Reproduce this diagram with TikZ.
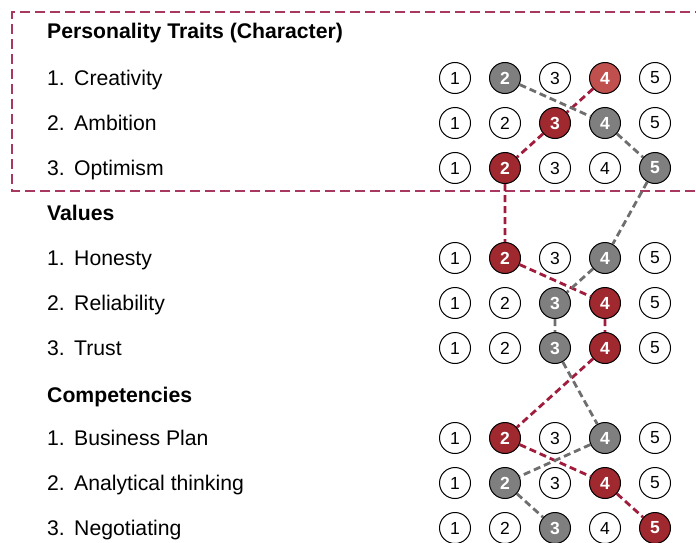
\documentclass[tikz,border=0pt]{standalone}
\usepackage{fontspec}
\setmainfont{Liberation Sans}
\definecolor{dred}{HTML}{A0282F}
\definecolor{lred}{HTML}{C0504D}
\definecolor{dgray}{HTML}{7F7F7F}
\definecolor{lgray}{HTML}{6E6E6E}
\definecolor{boxc}{HTML}{A8385F}
\definecolor{lnred}{HTML}{A01C3C}
\begin{document}
\begin{tikzpicture}[x=1pt,y=-1pt,
  dot/.style={circle,draw=black,line width=1pt,minimum size=31pt,inner sep=0pt,fill=white,
    font=\fontsize{17.5}{17.5}\selectfont},
  gdot/.style={fill=dgray,text=white,font=\fontsize{17.5}{17.5}\selectfont\bfseries},
  rdot/.style={fill=dred,text=white,font=\fontsize{17.5}{17.5}\selectfont\bfseries},
  ldot/.style={fill=lred,text=white,font=\fontsize{17.5}{17.5}\selectfont\bfseries},
  head/.style={anchor=base west,inner sep=0pt,font=\fontsize{21.2}{21.2}\selectfont\bfseries},
  item/.style={anchor=base west,inner sep=0pt,font=\fontsize{21.2}{21.2}\selectfont},
  redline/.style={draw=lnred,line width=2.8pt,dash pattern=on 7pt off 4pt},
  grayline/.style={draw=lgray,line width=2.8pt,dash pattern=on 7pt off 4pt},
  boxline/.style={draw=boxc,line width=2pt,dash pattern=on 10pt off 5pt},
  sel p1-2/.style=gdot, sel p1-4/.style=ldot,
  sel p2-3/.style=rdot, sel p2-4/.style=gdot,
  sel p3-2/.style=rdot, sel p3-5/.style=gdot,
  sel v1-2/.style=rdot, sel v1-4/.style=gdot,
  sel v2-3/.style=gdot, sel v2-4/.style=rdot,
  sel v3-3/.style=gdot, sel v3-4/.style=rdot,
  sel c1-2/.style=rdot, sel c1-4/.style=gdot,
  sel c2-2/.style=gdot, sel c2-4/.style=rdot,
  sel c3-3/.style=gdot, sel c3-5/.style=rdot]
\useasboundingbox (0,0) rectangle (696,543);
\draw[boxline] (720,12.5) -- (11.5,12.5) -- (11.5,191) -- (720,191);
% headings
\node[head] (hp) at (47,39) {Personality Traits (Character)};
\node[head] (hv) at (47,220) {Values};
\node[head] (hc) at (47,402) {Competencies};
% items
\foreach \r/\y/\n/\t in {p1/78/1./Creativity, p2/123/2./Ambition, p3/168/3./Optimism,
  v1/258/1./Honesty, v2/303/2./Reliability, v3/348/3./Trust,
  c1/438/1./Business Plan, c2/483/2./Analytical thinking, c3/528/3./Negotiating}{
  \node[item] (\r-num) at (47,\y+7.5) {\n};
  \node[item] (\r-txt) at (74,\y+7.5) {\t};
  \foreach \i in {1,...,5}{
    \node[dot, sel \r-\i/.try] (\r-\i) at (405+50*\i,\y) {\i};
  }
}
% connectors
\draw[redline] (p1-4) -- (p2-3) -- (p3-2) -- (v1-2) -- (v2-4) -- (v3-4) -- (c1-2) -- (c2-4) -- (c3-5);
\draw[grayline] (p1-2) -- (p2-4) -- (p3-5) -- (v1-4) -- (v2-3) -- (v3-3) -- (c1-4) -- (c2-2) -- (c3-3);
\end{tikzpicture}
\end{document}
